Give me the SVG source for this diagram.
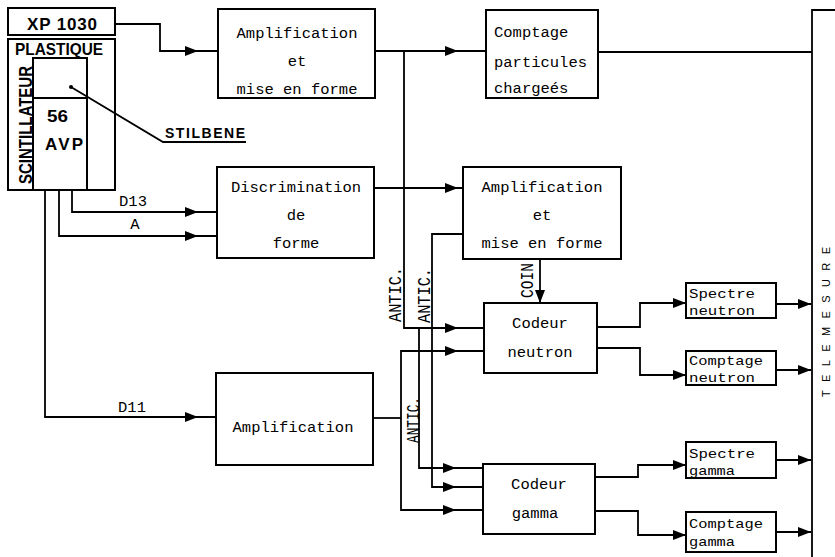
<svg xmlns="http://www.w3.org/2000/svg" xmlns:xlink="http://www.w3.org/1999/xlink" width="835" height="557" viewBox="0 0 835 557">
<style>
  .box { fill: #fff; stroke: #000; stroke-width: 2; }
  .ln { fill: none; stroke: #000; stroke-width: 1.8; }
  .mono { font-family: "Liberation Mono", "DejaVu Sans Mono", monospace; font-size: 15.5px; fill: #000; }
  .sm { font-family: "Liberation Mono", "DejaVu Sans Mono", monospace; font-size: 13.5px; fill: #000; }
  .mid { text-anchor: middle; }
  .bold { font-family: "Liberation Sans", Arial, sans-serif; font-weight: bold; fill: #000; }
</style>
<defs>
  <polygon id="arr" points="0,0 -13,-5 -13,5" fill="#000"/>
</defs>
<rect width="835" height="557" fill="#fff"/>

<g id="detector">
  <rect class="box" x="8" y="8" width="107" height="27"/>
  <rect class="box" x="8" y="39" width="107" height="151"/>
  <rect class="box" x="33" y="58" width="54" height="132"/>
  <line class="ln" x1="33" y1="98" x2="87" y2="98"/>
  <text class="bold" x="27" y="30" font-size="17" textLength="70" lengthAdjust="spacing">XP 1030</text>
  <text class="bold" x="15" y="55" font-size="17" textLength="88" lengthAdjust="spacingAndGlyphs">PLASTIQUE</text>
  <text class="bold" transform="translate(32,184) rotate(-90)" x="0" y="0" font-size="18" textLength="118" lengthAdjust="spacingAndGlyphs">SCINTILLATEUR</text>
  <text class="bold" x="47" y="122" font-size="17" textLength="21" lengthAdjust="spacingAndGlyphs">56</text>
  <text class="bold" x="45" y="150" font-size="17" textLength="38" lengthAdjust="spacing">AVP</text>
  <circle cx="71" cy="87" r="2" fill="#000"/>
  <polyline class="ln" points="71,87 163,142 246,142" stroke-width="1.5"/>
  <text class="bold" x="165" y="138" font-size="14" textLength="80" lengthAdjust="spacing">STILBENE</text>
</g>

<g id="amp1">
  <rect class="box" x="218" y="9" width="157" height="89"/>
  <text class="mono mid" x="297" y="38">Amplification</text>
  <text class="mono mid" x="297" y="66">et</text>
  <text class="mono mid" x="297" y="94">mise en forme</text>
</g>

<g id="comptage-particules">
  <rect class="box" x="486" y="10" width="112" height="88"/>
  <text class="mono" x="494" y="37">Comptage</text>
  <text class="mono" x="494" y="67">particules</text>
  <text class="mono" x="494" y="93">chargeés</text>
</g>

<g id="discrimination">
  <rect class="box" x="217" y="167" width="157" height="91"/>
  <text class="mono mid" x="296" y="192">Discrimination</text>
  <text class="mono mid" x="296" y="220">de</text>
  <text class="mono mid" x="296" y="248">forme</text>
</g>

<g id="amp2">
  <rect class="box" x="463" y="167" width="158" height="92"/>
  <text class="mono mid" x="542" y="192">Amplification</text>
  <text class="mono mid" x="542" y="220">et</text>
  <text class="mono mid" x="542" y="248">mise en forme</text>
</g>

<g id="amp3">
  <rect class="box" x="216" y="373" width="157" height="92"/>
  <text class="mono mid" x="293" y="432">Amplification</text>
</g>

<g id="codeur-neutron">
  <rect class="box" x="484" y="303" width="113" height="70"/>
  <text class="mono mid" x="540" y="328">Codeur</text>
  <text class="mono mid" x="540" y="357">neutron</text>
</g>

<g id="codeur-gamma">
  <rect class="box" x="483" y="464" width="112" height="70"/>
  <text class="mono mid" x="539" y="489">Codeur</text>
  <text class="mono mid" x="535" y="518">gamma</text>
</g>

<g id="spectre-neutron">
  <rect class="box" x="686" y="283" width="90" height="35"/>
  <text class="sm" x="689" y="298" textLength="66" lengthAdjust="spacingAndGlyphs">Spectre</text>
  <text class="sm" x="689" y="315" textLength="66" lengthAdjust="spacingAndGlyphs">neutron</text>
</g>
<g id="comptage-neutron">
  <rect class="box" x="686" y="351" width="90" height="34"/>
  <text class="sm" x="689" y="365" textLength="74" lengthAdjust="spacingAndGlyphs">Comptage</text>
  <text class="sm" x="689" y="382" textLength="66" lengthAdjust="spacingAndGlyphs">neutron</text>
</g>
<g id="spectre-gamma">
  <rect class="box" x="686" y="442" width="90" height="36"/>
  <text class="sm" x="689" y="458" textLength="66" lengthAdjust="spacingAndGlyphs">Spectre</text>
  <text class="sm" x="689" y="475" textLength="46" lengthAdjust="spacingAndGlyphs">gamma</text>
</g>
<g id="comptage-gamma">
  <rect class="box" x="686" y="512" width="90" height="40"/>
  <text class="sm" x="689" y="528" textLength="74" lengthAdjust="spacingAndGlyphs">Comptage</text>
  <text class="sm" x="689" y="546" textLength="46" lengthAdjust="spacingAndGlyphs">gamma</text>
</g>

<g id="telemesure">
  <polyline class="ln" points="812,557 812,10 836,10" stroke-width="2.2"/>
  <text font-family="Liberation Sans, Arial, sans-serif" font-size="11" fill="#000" transform="translate(830,397) rotate(-90)" textLength="150" lengthAdjust="spacing">TELEMESURE</text>
</g>

<g id="connectors">
  <path class="ln" d="M115,24 H160 V51 H218"/>
  <use xlink:href="#arr" href="#arr" transform="translate(198,51)"/>
  <path class="ln" d="M375,51 H486"/>
  <use xlink:href="#arr" href="#arr" transform="translate(458,51)"/>
  <path class="ln" d="M598,52 H812"/>

  <path class="ln" d="M72,190 V212 H217"/>
  <use xlink:href="#arr" href="#arr" transform="translate(198,212)"/>
  <path class="ln" d="M59,190 V236 H217"/>
  <use xlink:href="#arr" href="#arr" transform="translate(198,236)"/>
  <path class="ln" d="M45,190 V417 H216"/>
  <use xlink:href="#arr" href="#arr" transform="translate(198,417)"/>

  <path class="ln" d="M374,188 H463"/>
  <use xlink:href="#arr" href="#arr" transform="translate(458,188)"/>

  <path class="ln" d="M404,51 V328 H484"/>
  <use xlink:href="#arr" href="#arr" transform="translate(458,328)"/>
  <path class="ln" d="M419,328 V468 H483"/>
  <use xlink:href="#arr" href="#arr" transform="translate(456,468)"/>

  <path class="ln" d="M463,234 H432 V487 H483"/>
  <use xlink:href="#arr" href="#arr" transform="translate(456,487)"/>

  <path class="ln" d="M373,418 H401"/>
  <path class="ln" d="M484,351 H401 V510 H483"/>
  <use xlink:href="#arr" href="#arr" transform="translate(458,351)"/>
  <use xlink:href="#arr" href="#arr" transform="translate(456,510)"/>

  <path class="ln" d="M540,259 V303"/>
  <use xlink:href="#arr" href="#arr" transform="translate(540,303) rotate(90)"/>

  <path class="ln" d="M597,327 H640 V303 H686"/>
  <use xlink:href="#arr" href="#arr" transform="translate(686,303)"/>
  <path class="ln" d="M597,348 H640 V375 H686" stroke-width="1.3"/>
  <use xlink:href="#arr" href="#arr" transform="translate(686,375)"/>
  <path class="ln" d="M595,477 H638 V465 H686"/>
  <use xlink:href="#arr" href="#arr" transform="translate(686,465)"/>
  <path class="ln" d="M595,511 H638 V535 H686"/>
  <use xlink:href="#arr" href="#arr" transform="translate(686,535)"/>

  <path class="ln" d="M776,304 H811"/>
  <use xlink:href="#arr" href="#arr" transform="translate(811,304)"/>
  <path class="ln" d="M776,370 H811"/>
  <use xlink:href="#arr" href="#arr" transform="translate(811,370)"/>
  <path class="ln" d="M776,460 H811"/>
  <use xlink:href="#arr" href="#arr" transform="translate(811,460)"/>
  <path class="ln" d="M776,532 H811"/>
  <use xlink:href="#arr" href="#arr" transform="translate(811,532)"/>

  <text class="mono mid" x="133" y="206">D13</text>
  <text class="mono mid" x="135" y="229">A</text>
  <text class="mono mid" x="132" y="412">D11</text>
  <text class="mono" transform="translate(401,322) rotate(-90)" style="font-size:19px" textLength="55" lengthAdjust="spacingAndGlyphs">ANTIC.</text>
  <text class="mono" transform="translate(430,323) rotate(-90)" style="font-size:19px" textLength="55" lengthAdjust="spacingAndGlyphs">ANTIC.</text>
  <text class="mono" transform="translate(419,443) rotate(-90)" style="font-size:19px" textLength="46" lengthAdjust="spacingAndGlyphs">ANTIC.</text>
  <text class="mono" transform="translate(533,298) rotate(-90)" style="font-size:18px" textLength="35" lengthAdjust="spacingAndGlyphs">COIN</text>
</g>
</svg>
